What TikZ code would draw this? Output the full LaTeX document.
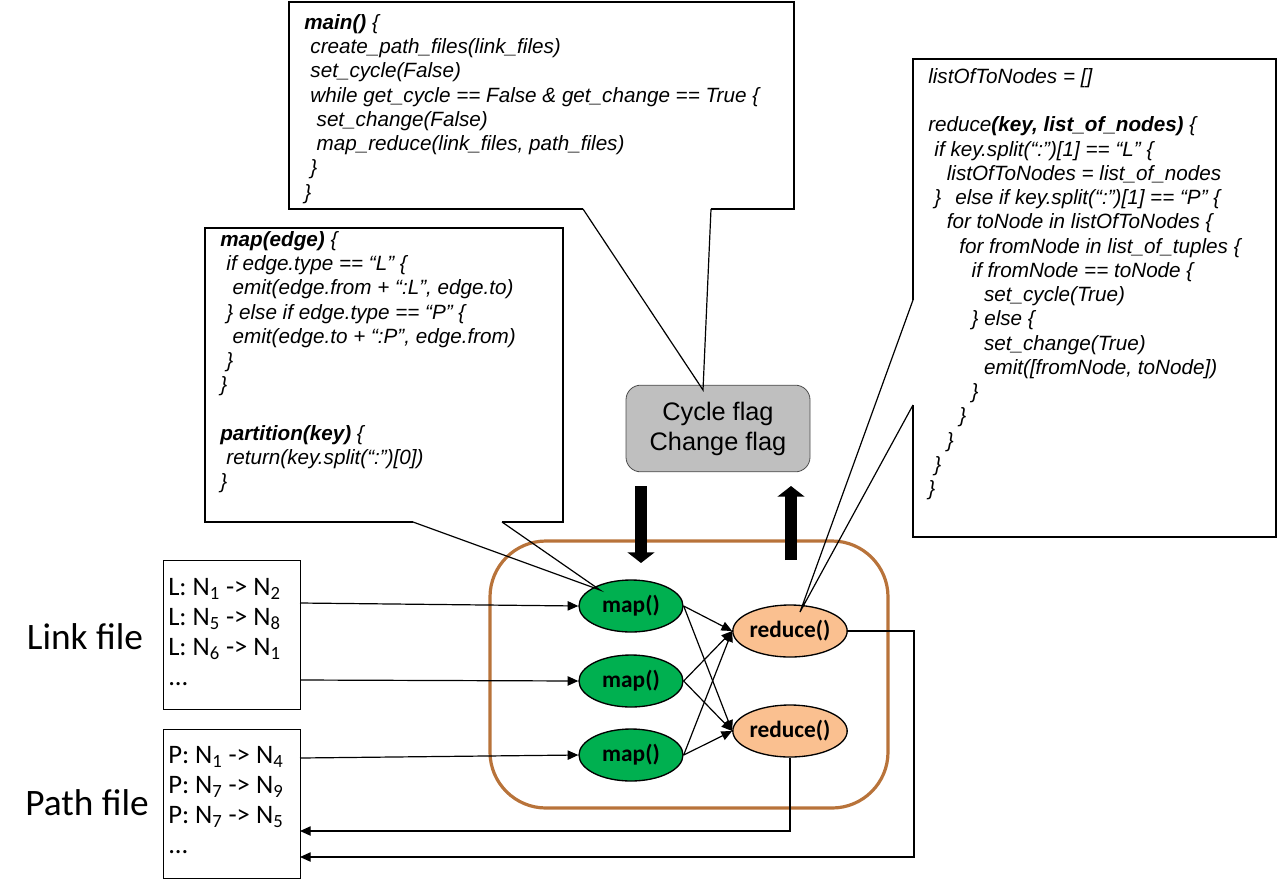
\documentclass[tikz,border=0pt]{standalone}
\usepackage{fontspec}
\setmainfont{Liberation Sans}
\newfontfamily\carlitofont{Carlito}
\usetikzlibrary{arrows.meta,shapes.geometric}
\definecolor{mgreen}{HTML}{00B050}
\definecolor{morange}{HTML}{FAC090}
\definecolor{mbrown}{HTML}{B8733A}
\definecolor{mgray}{HTML}{BFBFBF}
\begin{document}
\begin{tikzpicture}[x=0.75pt,y=-0.75pt,
  code/.style={anchor=north west,align=left,inner sep=0pt,font=\fontsize{15.5}{18.2}\selectfont\itshape},
  call/.style={draw=black,line width=1.4pt,line join=miter},
  ptr/.style={draw=black,line width=0.9pt},
  fnode/.style={ellipse,draw=black,line width=1pt,minimum width=78pt,minimum height=39pt,inner sep=0pt,font=\carlitofont\bfseries\fontsize{17.5}{19}\selectfont},
  file/.style={draw=black,line width=0.6pt,fill=white},
  ftext/.style={anchor=north west,align=left,inner sep=0pt,font=\carlitofont\fontsize{20}{22.5}\selectfont},
  arr/.style={-{Triangle[length=8pt,width=7pt]},line width=0.9pt},
  big/.style={-{Triangle[length=8pt,width=20pt]},line width=9pt}]
\useasboundingbox (0,0) rectangle (1277,879);
% container
\draw[mbrown,line width=2.4pt,rounded corners=42pt] (490,541) rectangle (888,808);
% flag box
\node[draw=black!70,fill=mgray,rounded corners=11pt,minimum width=138pt,minimum height=65pt,align=center,font=\fontsize{19}{22.5}\selectfont,line width=0.6pt] (flag) at (718,428.5) {Cycle flag\\Change flag};
% thick arrows
\coordinate (da1) at (641,486); \coordinate (da2) at (641,563);
\coordinate (ua1) at (791,560); \coordinate (ua2) at (791,486);
\draw[big] (da1) -- (da2);
\draw[big] (ua1) -- (ua2);
% ellipses
\node[fnode,fill=mgreen] (m1) at (631,606) {map()};
\node[fnode,fill=mgreen] (m2) at (631,681) {map()};
\node[fnode,fill=mgreen] (m3) at (631,755) {map()};
\node[fnode,fill=morange] (r1) at (790,631) {reduce()};
\node[fnode,fill=morange] (r2) at (790,731) {reduce()};
\foreach \a in {m1,m2,m3}{\foreach \b in {r1,r2}{\draw[arr] (\a.east) -- (\b.west);}}
% files
\node[file,minimum width=102.75pt,minimum height=111.75pt,anchor=north west] (lf) at (163,560) {};
\node[file,minimum width=102.75pt,minimum height=111.75pt,anchor=north west] (pf) at (163,729) {};
\node[ftext] (lft) at (168,578) {L: N\textsubscript{1} -> N\textsubscript{2}\\L: N\textsubscript{5} -> N\textsubscript{8}\\L: N\textsubscript{6} -> N\textsubscript{1}\\...};
\node[ftext] (pft) at (168,746) {P: N\textsubscript{1} -> N\textsubscript{4}\\P: N\textsubscript{7} -> N\textsubscript{9}\\P: N\textsubscript{7} -> N\textsubscript{5}\\...};
\node[font=\carlitofont\fontsize{28}{30}\selectfont] (lk) at (85,637) {Link file};
\node[font=\carlitofont\fontsize{28}{30}\selectfont] (pk) at (87,803) {Path file};
\draw[arr] (300,603) -- (m1.west);
\draw[arr] (300,680) -- (m2.west);
\draw[arr] (300,758) -- (m3.west);
\coordinate (c1) at (914,631); \coordinate (c2) at (914,857); \coordinate (c3) at (300,857);
\draw[arr] (r1.east) -- (c1) -- (c2) -- (c3);
\coordinate (d1) at (790,831); \coordinate (d2) at (300,831);
\draw[arr] (r2.south) -- (d1) -- (d2);
% main callout
\draw[call] (583,209) -- (289,209) -- (289,2) -- (794,2) -- (794,209) -- (711,209);
\draw[ptr] (583,209) -- (703,390) -- (711,209);
\node[code] (mc) at (304,14) {\textbf{main()} \{\\
\hspace*{0.3em}create\_path\_files(link\_files)\\
\hspace*{0.3em}set\_cycle(False)\\
\hspace*{0.3em}while get\_cycle == False \& get\_change == True \{\\
\hspace*{0.6em}set\_change(False)\\
\hspace*{0.6em}map\_reduce(link\_files, path\_files)\\
\hspace*{0.3em}\}\\
\}};
% map callout
\draw[call] (413,522) -- (205,522) -- (205,228) -- (563,228) -- (563,522) -- (502,522);
\draw[ptr] (413,522) -- (600,590) -- (502,522);
\node[code] (mpc) at (220,231) {\textbf{map(edge)} \{\\
\hspace*{0.3em}if edge.type == “L” \{\\
\hspace*{0.6em}emit(edge.from + “:L”, edge.to)\\
\hspace*{0.3em}\} else if edge.type == “P” \{\\
\hspace*{0.6em}emit(edge.to + “:P”, edge.from)\\
\hspace*{0.3em}\}\\
\}\\[18.2pt]
\textbf{partition(key)} \{\\
\hspace*{0.3em}return(key.split(“:”)[0])\\
\}};
% reduce callout
\draw[call] (913,300) -- (913,59) -- (1276,59) -- (1276,537) -- (913,537) -- (913,405);
\draw[ptr] (913,300) -- (800,612) -- (913,405);
\node[code] (rc) at (928,68) {listOfToNodes = []\\[18.2pt]
reduce\textbf{(key, list\_of\_nodes)} \{\\
\hspace*{0.3em}if key.split(“:”)[1] == “L” \{\\
\hspace*{0.9em}listOfToNodes = list\_of\_nodes\\
\hspace*{0.3em}\}\hspace*{0.4em} else if key.split(“:”)[1] == “P” \{\\
\hspace*{0.9em}for toNode in listOfToNodes \{\\
\hspace*{1.5em}for fromNode in list\_of\_tuples \{\\
\hspace*{2.1em}if fromNode == toNode \{\\
\hspace*{2.7em}set\_cycle(True)\\
\hspace*{2.1em}\} else \{\\
\hspace*{2.7em}set\_change(True)\\
\hspace*{2.7em}emit([fromNode, toNode])\\
\hspace*{2.1em}\}\\
\hspace*{1.5em}\}\\
\hspace*{0.9em}\}\\
\hspace*{0.3em}\}\\
\}};
\end{tikzpicture}
\end{document}
